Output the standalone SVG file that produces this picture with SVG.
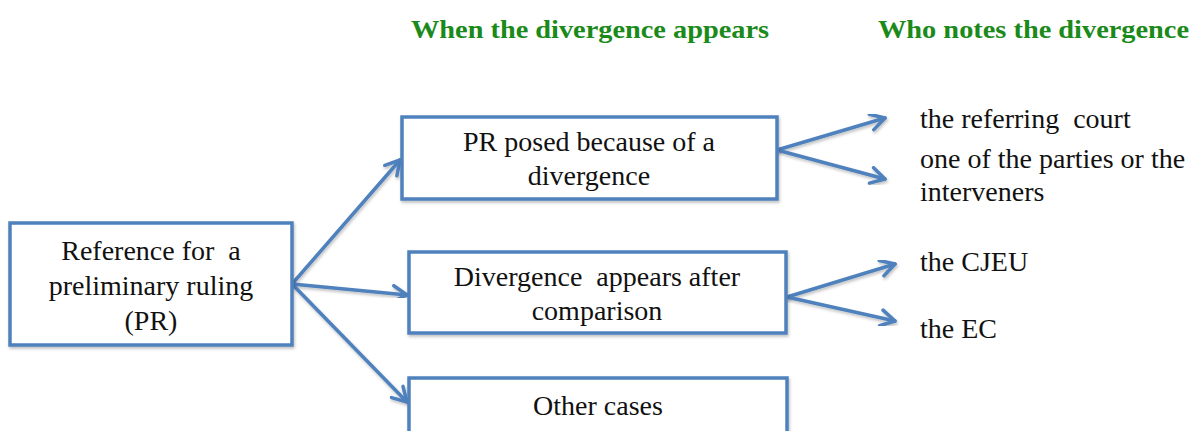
<svg xmlns="http://www.w3.org/2000/svg" width="1193" height="431" viewBox="0 0 1193 431">
<defs>
<marker id="arr" viewBox="0 0 20 20" refX="17" refY="10" markerWidth="20" markerHeight="20" markerUnits="userSpaceOnUse" orient="auto">
<polyline points="3,2 17,10 3,18" fill="none" stroke="#4f81bd" stroke-width="3.5" stroke-linecap="round" stroke-linejoin="round"/>
</marker>
<filter id="sh" x="-10%" y="-10%" width="120%" height="130%">
<feDropShadow dx="1" dy="2" stdDeviation="1.5" flood-color="#000" flood-opacity="0.25"/>
</filter>
</defs>
<style>
.box{fill:#fff;stroke:#4f81bd;stroke-width:3.5;filter:url(#sh)}
.t{font-family:"Liberation Serif","Times New Roman",serif;font-size:28px;fill:#111;white-space:pre}
.c{text-anchor:middle}
.h{font-family:"Liberation Serif","Times New Roman",serif;font-size:26px;font-weight:bold;fill:#1a8a1a}
.ln{fill:none;stroke:#4f81bd;stroke-width:3.5;stroke-linecap:round;marker-end:url(#arr);filter:url(#sh)}
</style>
<rect width="1193" height="431" fill="#fff"/>
<g id="headers">
<text class="h" x="411" y="38" textLength="358" lengthAdjust="spacingAndGlyphs">When the divergence appears</text>
<text class="h" x="878" y="38" textLength="311" lengthAdjust="spacingAndGlyphs">Who notes the divergence</text>
</g>
<g id="connectors">
<line class="ln" x1="292" y1="284" x2="400" y2="160"/>
<line class="ln" x1="292" y1="284" x2="407" y2="295"/>
<line class="ln" x1="292" y1="284" x2="407" y2="402"/>
<line class="ln" x1="777" y1="150" x2="885" y2="118"/>
<line class="ln" x1="777" y1="150" x2="885" y2="179"/>
<line class="ln" x1="787" y1="297" x2="895" y2="264"/>
<line class="ln" x1="787" y1="297" x2="895" y2="321"/>
</g>
<g id="node-pr">
<rect class="box" x="10" y="223" width="282" height="122"/>
<text class="t c" x="151" y="260">Reference for  a</text>
<text class="t c" x="151" y="295">preliminary ruling</text>
<text class="t c" x="151" y="330">(PR)</text>
</g>
<g id="node-posed">
<rect class="box" x="402" y="117" width="375" height="82"/>
<text class="t c" x="589" y="151">PR posed because of a</text>
<text class="t c" x="589" y="185">divergence</text>
</g>
<g id="node-after">
<rect class="box" x="409" y="252" width="377" height="81"/>
<text class="t c" x="597" y="286">Divergence  appears after</text>
<text class="t c" x="597" y="320">comparison</text>
</g>
<g id="node-other">
<rect class="box" x="409" y="378" width="378" height="70"/>
<text class="t c" x="598" y="415">Other cases</text>
</g>
<g id="node-court"><text class="t" x="920" y="128">the referring  court</text></g>
<g id="node-parties">
<text class="t" x="920" y="168">one of the parties or the</text>
<text class="t" x="920" y="201">interveners</text>
</g>
<g id="node-cjeu"><text class="t" x="920" y="271">the CJEU</text></g>
<g id="node-ec"><text class="t" x="920" y="338">the EC</text></g>
</svg>
